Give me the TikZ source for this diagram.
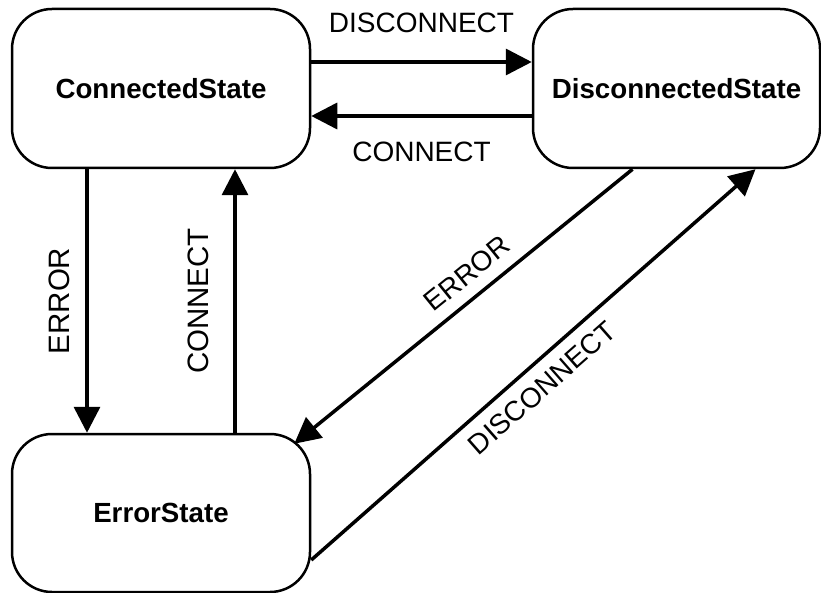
\documentclass[tikz,border=0pt]{standalone}
\usepackage{fontspec}
\setmainfont{Liberation Sans}
\usetikzlibrary{arrows.meta}
\begin{document}
\begin{tikzpicture}[x=1pt,y=-1pt,
  state/.style={draw, line width=2.5pt, rounded corners=40pt,
    font=\fontsize{27.7}{33}\selectfont\bfseries, inner sep=0pt, anchor=center},
  arr/.style={line width=3.5pt, -{Triangle[length=26pt,width=26pt]}},
  rarr/.style={line width=3.5pt, {Triangle[length=26pt,width=26pt]}-},
  lbl/.style={font=\fontsize{28}{33}\selectfont, inner sep=0pt},
  vlbl/.style={font=\fontsize{29.5}{35}\selectfont, inner sep=0pt}]
\useasboundingbox (0,0) rectangle (821,593);
\node[state, minimum width=298pt, minimum height=159pt] (C) at (161,88.5) {ConnectedState};
\node[state, minimum width=287pt, minimum height=159pt] (D) at (676.5,88.5) {DisconnectedState};
\node[state, minimum width=298pt, minimum height=158pt] (E) at (161,513) {ErrorState};
% horizontal
\draw[arr] ([yshift=26.5pt]C.east) -- node[lbl, above=27pt]{DISCONNECT} ([yshift=26.5pt]D.west);
\draw[arr] ([yshift=-27.5pt]D.west) -- node[lbl, below=24pt]{CONNECT} ([yshift=-27.5pt]C.east);
% vertical
\draw[rarr] ([xshift=-74pt]E.north) -- node[vlbl, sloped, above=15pt]{ERROR} ([xshift=-74pt]C.south);
\draw[arr] ([xshift=74pt]E.north) -- node[vlbl, sloped, above=24pt]{CONNECT} ([xshift=74pt]C.south);
% diagonal
\draw[arr] ([xshift=-44pt]D.south) -- node[lbl, sloped, above=11.6pt, pos=0.446]{ERROR} ([xshift=-17pt,yshift=-11pt]E.north east);
\draw[arr] ([yshift=-47pt]E.east) -- node[lbl, sloped, below=11.5pt, pos=0.485]{DISCONNECT} ([xshift=79pt]D.south);
\end{tikzpicture}
\end{document}
